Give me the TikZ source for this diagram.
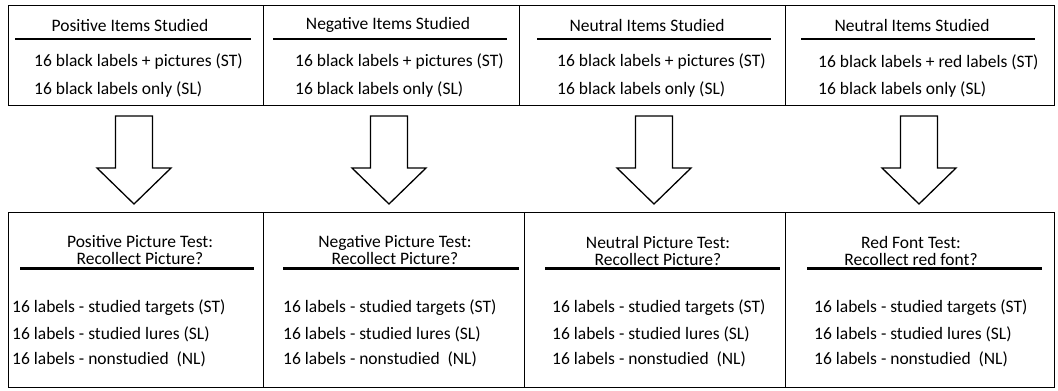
\documentclass[tikz,border=0pt]{standalone}
\usepackage{fontspec}
\setmainfont{Carlito}
\usetikzlibrary{positioning}

\tikzset{
  cell/.style={draw=black,line width=1.3pt,anchor=north west,inner sep=0pt},
  head/.style={align=center,inner sep=0pt,font=\fontsize{17.5}{17}\selectfont},
  item/.style={anchor=west,inner sep=0pt,font=\fontsize{17.5}{21}\selectfont},
  rule/.style={line width=2.4pt},
  blockarrow/.style={draw=black,line width=1.3pt,fill=white,line join=miter}
}

\begin{document}
\begin{tikzpicture}[x=1pt,y=-1pt]
\useasboundingbox (0,0) rectangle (1058,391);
% study phase
\node[cell,minimum width=255pt,minimum height=99.5pt](s1)at(8,5){};
\node[cell,minimum width=256pt,minimum height=99.5pt](s2)at(263,5){};
\node[cell,minimum width=266pt,minimum height=99.5pt](s3)at(519,5){};
\node[cell,minimum width=269pt,minimum height=99.5pt](s4)at(785,5){};
\node[head](s1h)at(130,25){Positive Items Studied};
\node[head](s2h)at(388,25){Negative Items Studied};
\node[head](s3h)at(647,25){Neutral Items Studied};
\node[head](s4h)at(912,25){Neutral Items Studied};
\draw[rule] (15,39) -- (251,39);
\draw[rule] (273,39) -- (507,39);
\draw[rule] (537,39) -- (771,39);
\draw[rule] (801,39) -- (1035,39);
\node[item](s1a)at(34,62){16 black labels + pictures (ST)};
\node[item](s1b)at(34,90){16 black labels only (SL)};
\node[item](s2a)at(295,62){16 black labels + pictures (ST)};
\node[item](s2b)at(295,90){16 black labels only (SL)};
\node[item](s3a)at(557,62){16 black labels + pictures (ST)};
\node[item](s3b)at(557,90){16 black labels only (SL)};
\node[item](s4a)at(818,62){16 black labels + red labels (ST)};
\node[item](s4b)at(818,90){16 black labels only (SL)};
% test phase
\node[cell,minimum width=255pt,minimum height=175pt](t1)at(8,212){};
\node[cell,minimum width=261pt,minimum height=175pt](t2)at(263,212){};
\node[cell,minimum width=261pt,minimum height=175pt](t3)at(524,212){};
\node[cell,minimum width=269pt,minimum height=175pt](t4)at(785,212){};
\node[head](t1h)at(140,250.5){Positive Picture Test:\\Recollect Picture?};
\node[head](t2h)at(395,250.5){Negative Picture Test:\\Recollect Picture?};
\node[head](t3h)at(658,250.5){Neutral Picture Test:\\Recollect Picture?};
\node[head](t4h)at(911,250.5){Red Font Test:\\Recollect red font?};
\draw[rule] (20,268.5) -- (254,268.5);
\draw[rule] (283,268.5) -- (519,268.5);
\draw[rule] (545,268.5) -- (780,268.5);
\draw[rule] (807,268.5) -- (1042,268.5);
\node[item](t1a)at(12,308){16 labels - studied targets (ST)};
\node[item](t1b)at(12,334){16 labels - studied lures (SL)};
\node[item](t1c)at(12,359){16 labels - nonstudied\ \ (NL)};
\node[item](t2a)at(283,308){16 labels - studied targets (ST)};
\node[item](t2b)at(283,334){16 labels - studied lures (SL)};
\node[item](t2c)at(283,359){16 labels - nonstudied\ \ (NL)};
\node[item](t3a)at(552,308){16 labels - studied targets (ST)};
\node[item](t3b)at(552,334){16 labels - studied lures (SL)};
\node[item](t3c)at(552,359){16 labels - nonstudied\ \ (NL)};
\node[item](t4a)at(814,308){16 labels - studied targets (ST)};
\node[item](t4b)at(814,334){16 labels - studied lures (SL)};
\node[item](t4c)at(814,359){16 labels - nonstudied\ \ (NL)};
% arrows between phases
\coordinate (a1) at (134,116);
\coordinate (a2) at (389,116);
\coordinate (a3) at (654,116);
\coordinate (a4) at (919,116);
\foreach \a in {a1,a2,a3,a4}
  \draw[blockarrow] (\a) ++(-18.5,0) -- ++(0,52) -- ++(-18.5,0) -- ++(37,36)
    -- ++(37,-36) -- ++(-18.5,0) -- ++(0,-52) -- cycle;
\end{tikzpicture}
\end{document}
